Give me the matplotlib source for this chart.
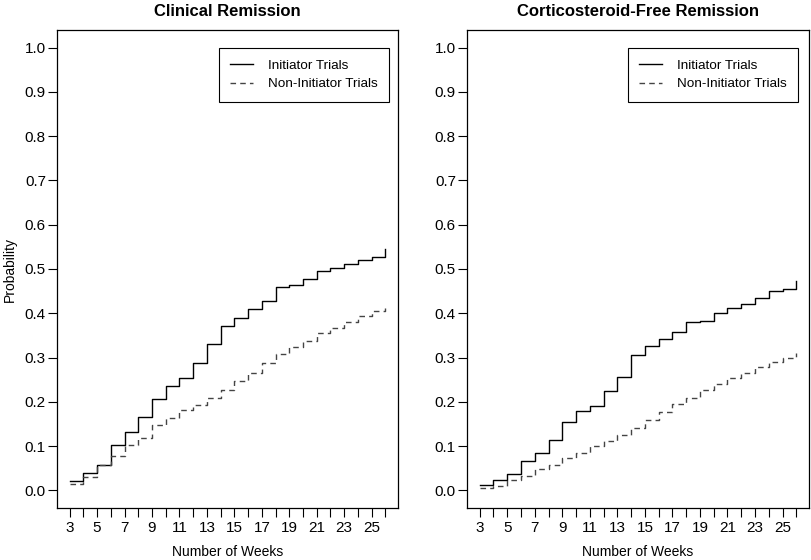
import numpy as np
import matplotlib.pyplot as plt

plt.rcParams['font.family'] = ['Liberation Sans', 'DejaVu Sans']

weeks = list(range(3, 27))

# Clinical remission
cr_initiator = [0.022, 0.040, 0.057, 0.102, 0.132, 0.166, 0.207, 0.235, 0.254, 0.288,
                0.330, 0.371, 0.390, 0.409, 0.428, 0.460, 0.464, 0.477, 0.495, 0.502,
                0.511, 0.521, 0.528, 0.545]
cr_non_initiator = [0.015, 0.030, 0.058, 0.078, 0.102, 0.118, 0.147, 0.164, 0.181, 0.192,
                    0.209, 0.226, 0.247, 0.266, 0.287, 0.307, 0.324, 0.337, 0.356, 0.367,
                    0.381, 0.394, 0.406, 0.412]

# Corticosteroid-free remission
cf_initiator = [0.013, 0.024, 0.036, 0.066, 0.084, 0.113, 0.154, 0.179, 0.190, 0.224,
                0.256, 0.305, 0.327, 0.341, 0.357, 0.381, 0.383, 0.401, 0.411, 0.420,
                0.434, 0.450, 0.455, 0.473]
cf_non_initiator = [0.006, 0.010, 0.023, 0.032, 0.048, 0.058, 0.072, 0.084, 0.100, 0.111,
                    0.124, 0.141, 0.158, 0.176, 0.194, 0.209, 0.226, 0.241, 0.253, 0.266,
                    0.279, 0.290, 0.300, 0.311]

titles = ["Clinical Remission", "Corticosteroid-Free Remission"]
series = [(cr_initiator, cr_non_initiator), (cf_initiator, cf_non_initiator)]
labels = ["Initiator Trials", "Non-Initiator Trials"]

W, H = 812, 560
fig = plt.figure(figsize=(W / 100, H / 100), dpi=100)

boxes = [(57, 398), (467, 809)]
top, bottom = 30, 508
legend_right = [389, 798]

for i, (x0, x1) in enumerate(boxes):
    ax = fig.add_axes([x0 / W, (H - bottom) / H, (x1 - x0) / W, (bottom - top) / H])
    ini, non = series[i]
    ax.step(weeks, ini, where='post', color='black', lw=1.0, label=labels[0])
    ax.step(weeks, non, where='post', color='#444444', lw=1.0, dashes=(4, 3), label=labels[1])

    ax.set_xlim(2.08, 26.92)
    ax.set_ylim(-0.04, 1.04)
    ax.set_xticks(weeks)
    ax.set_xticklabels([str(w) if w % 2 == 1 and w < 26 else '' for w in weeks])
    ax.set_yticks(np.arange(0, 1.01, 0.1))
    ax.set_yticklabels(['%.1f' % v for v in np.arange(0, 1.01, 0.1)])
    ax.tick_params(direction='out', length=6.5, width=0.8, labelsize=11, color='black')
    ax.tick_params(axis='x', pad=3)
    ax.tick_params(axis='y', pad=1.5)
    for s in ax.spines.values():
        s.set_linewidth(0.9)

    ax.set_title(titles[i], fontsize=12, fontweight='bold', pad=10)
    ax.set_xlabel("Number of Weeks", fontsize=10, labelpad=7)
    if i == 0:
        ax.set_ylabel("Probability", fontsize=10, labelpad=6)

    lx = (legend_right[i] - x0) / (x1 - x0)
    ly = (bottom - 48) / (bottom - top)
    leg = ax.legend(loc='upper right', bbox_to_anchor=(lx, ly), borderaxespad=0,
                    fontsize=9.7, fancybox=False, framealpha=1, edgecolor='black',
                    handlelength=1.7, handletextpad=1.1, labelspacing=0.45, borderpad=0.85)
    leg.get_frame().set_linewidth(0.8)

fig.savefig("out.png", dpi=100)
